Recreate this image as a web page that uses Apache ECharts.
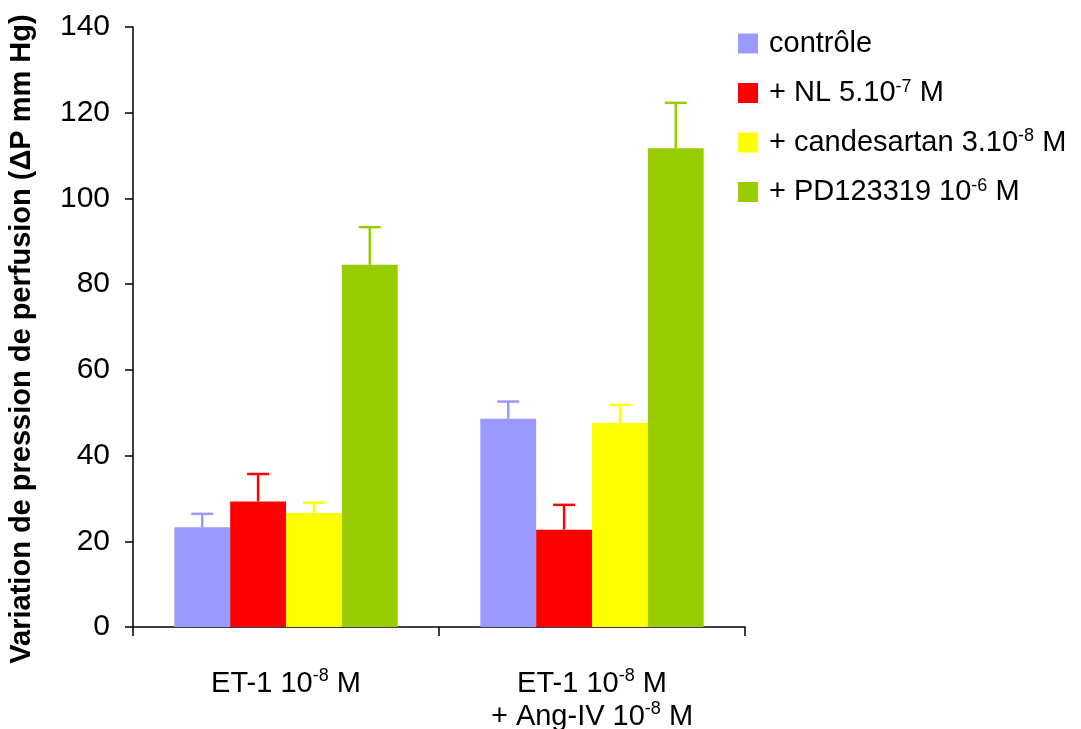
<!DOCTYPE html>
<html>
<head>
<meta charset="utf-8">
<script src="https://cdn.jsdelivr.net/npm/echarts@6/dist/echarts.min.js"></script>
<style>
  html, body { margin: 0; padding: 0; background: #fff; }
  #chart { width: 1081px; height: 729px; }
</style>
</head>
<body>
<div id="chart"></div>
<script>
// Categories (rich-text labels with superscript exponents)
const categories = [
  '{n|ET-1 10}{sup|-8}{n| M}',
  '{n|ET-1 10}{sup|-8}{n| M}\n{n|+ Ang-IV 10}{sup|-8}{n| M}'
];

// Series names and colours
const seriesNames = ['contrôle', '+ NL 5.10-7 M', '+ candesartan 3.10-8 M', '+ PD123319 10-6 M'];
const legendLabels = [
  '{n|contrôle}',
  '{n|+ NL 5.10}{sup|-7}{n| M}',
  '{n|+ candesartan 3.10}{sup|-8}{n| M}',
  '{n|+ PD123319 10}{sup|-6}{n| M}'
];
const colors = ['#9999FF', '#FF0000', '#FFFF00', '#99CC00'];

// Mean values (ΔP mm Hg) per series, one value per category
const controle    = [23.3, 48.6];
const nl          = [29.3, 22.7];
const candesartan = [26.6, 47.6];
const pd123319    = [84.5, 111.7];

// Upper error (SEM) per series
const controleErr    = [3.1, 4.0];
const nlErr          = [6.4, 5.8];
const candesartanErr = [2.4, 4.2];
const pd123319Err    = [8.8, 10.6];

// Y axis ticks
const yMin = 0, yMax = 140, yStep = 20;

const values = [controle, nl, candesartan, pd123319];
const errors = [controleErr, nlErr, candesartanErr, pd123319Err];

const categoryGap = 0.27;
const nSeries = values.length;
const FONT = 'Liberation Sans, Arial, sans-serif';

const chart = echarts.init(document.getElementById('chart'));

const axisRich = {
  n: { fontSize: 29, color: '#000', fontFamily: FONT, lineHeight: 33 },
  sup: { fontSize: 18, color: '#000', fontFamily: FONT, verticalAlign: 'top', lineHeight: 28 }
};
const legendRich = {
  n: { fontSize: 29, color: '#000', fontFamily: FONT, lineHeight: 30 },
  sup: { fontSize: 18, color: '#000', fontFamily: FONT, verticalAlign: 'top', lineHeight: 26 }
};

const barSeries = values.map((vals, i) => ({
  name: seriesNames[i],
  type: 'bar',
  data: vals,
  barGap: '0%',
  barCategoryGap: (categoryGap * 100) + '%',
  itemStyle: { color: colors[i] },
  z: 2
}));

// Upper error bars drawn with the category scale, offset to each bar's slot
const errorSeries = values.map((vals, i) => ({
  name: seriesNames[i] + ' err',
  type: 'custom',
  data: vals.map((v, k) => [k, v, v + errors[i][k]]),
  z: 3,
  renderItem: function (params, api) {
    const k = api.value(0);
    const lo = api.coord([k, api.value(1)]);
    const hi = api.coord([k, api.value(2)]);
    const band = api.size([1, 0])[0];
    const barW = band * (1 - categoryGap) / nSeries;
    const x = lo[0] + (i - (nSeries - 1) / 2) * barW;
    const capHalf = 11;
    const style = { stroke: colors[i], lineWidth: 2.5, fill: null };
    return {
      type: 'group',
      children: [
        { type: 'line', shape: { x1: x, y1: lo[1], x2: x, y2: hi[1] }, style: style },
        { type: 'line', shape: { x1: x - capHalf, y1: hi[1], x2: x + capHalf, y2: hi[1] }, style: style }
      ]
    };
  }
}));

chart.setOption({
  animation: false,
  backgroundColor: '#fff',
  grid: { left: 133, right: 336, top: 27, bottom: 102, containLabel: false, outerBoundsMode: 'none' },
  legend: {
    orient: 'vertical',
    left: 733,
    top: 24,
    itemWidth: 20,
    itemHeight: 20,
    itemGap: 20,
    selectedMode: false,
    data: seriesNames.map((n, i) => ({ name: n, icon: 'rect', itemStyle: { color: colors[i] } })),
    formatter: function (name) { return legendLabels[seriesNames.indexOf(name)]; },
    textStyle: { rich: legendRich, padding: [0, 0, 0, 6] }
  },
  xAxis: {
    type: 'category',
    data: categories,
    axisLine: { show: true, lineStyle: { color: '#000', width: 1.5 } },
    axisTick: { show: true, alignWithLabel: false, length: 9, lineStyle: { color: '#000', width: 1.5 } },
    axisLabel: { margin: 40, rich: axisRich, lineHeight: 33, align: 'center' }
  },
  yAxis: {
    type: 'value',
    min: yMin,
    max: yMax,
    interval: yStep,
    name: 'Variation de pression de perfusion (ΔP mm Hg)',
    nameLocation: 'middle',
    nameGap: 97,
    nameTextStyle: { fontSize: 29, fontWeight: 'bold', color: '#000', fontFamily: FONT, padding: [0, 24, 0, 0] },
    axisLine: { show: true, lineStyle: { color: '#000', width: 1.5 } },
    axisTick: { show: true, inside: false, length: 8, lineStyle: { color: '#000', width: 1.5 } },
    axisLabel: { margin: 23, fontSize: 30, color: '#000', fontFamily: FONT },
    splitLine: { show: false }
  },
  series: barSeries.concat(errorSeries)
});
</script>
</body>
</html>
